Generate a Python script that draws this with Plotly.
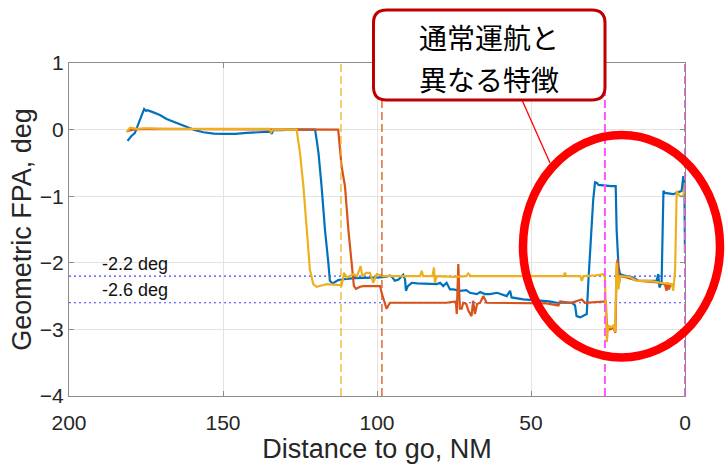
import plotly.graph_objects as go

# Flight-path angle versus distance to go for three approaches
blue_dist = [181.0, 179.8, 178.6, 177.0, 175.6, 175.0, 174.6, 173.2, 170.5, 168.3, 165.0, 161.8,
             159.0, 156.4, 153.0, 149.9, 146.0, 142.3, 138.5, 135.8, 134.6, 134.2, 133.7, 131.0,
             128.2, 124.0, 120.1, 119.6, 119.0, 118.0, 116.9, 115.8, 115.3, 114.4, 113.5, 112.6,
             111.0, 109.8, 107.0, 104.4, 102.0, 99.0, 97.0, 95.8, 95.0, 94.2, 93.0, 91.5, 90.9,
             90.6, 90.0, 88.7, 87.0, 85.0, 83.0, 80.6, 79.5, 78.5, 77.4, 76.3, 75.2, 73.0, 71.0,
             69.8, 67.6, 66.5, 65.0, 63.3, 61.0, 57.9, 56.8, 56.3, 52.5, 49.0, 47.1, 44.0, 41.7,
             39.0, 36.8, 35.7, 35.2, 34.0, 33.0, 31.9, 31.4, 30.8, 30.3, 29.8, 29.2, 28.6, 28.1,
             26.5, 25.4, 24.0, 22.5, 22.2, 21.6, 21.1, 20.0, 18.9, 16.8, 15.2, 12.4, 9.2, 8.7,
             8.3, 7.6, 7.0, 6.5, 5.0, 3.8, 2.7, 1.1, 0.55, 0.2, 0.0]
blue_fpa = [-0.17, -0.10, -0.05, 0.15, 0.31, 0.28, 0.29, 0.27, 0.22, 0.16, 0.10, 0.03,
            -0.01, -0.04, -0.06, -0.065, -0.065, -0.05, -0.04, -0.03, -0.03, -0.065, -0.01, -0.01,
            0.0, 0.0, 0.0, -0.15, -0.35, -0.85, -1.5, -2.0, -2.27, -2.31, -2.29, -2.26,
            -2.25, -2.24, -2.23, -2.23, -2.22, -2.22, -2.21, -2.19, -2.22, -2.27, -2.25, -2.18, -2.25,
            -2.42, -2.35, -2.30, -2.31, -2.31, -2.32, -2.32, -2.30, -2.35, -2.30, -2.40, -2.40, -2.42, -2.41,
            -2.45, -2.47, -2.44, -2.47, -2.47, -2.45, -2.50, -2.42, -2.52, -2.55, -2.56, -2.57, -2.58, -2.60,
            -2.60, -2.60, -2.64, -2.80, -2.82, -2.80, -2.77, -2.30, -1.80, -1.40, -1.05, -0.79, -0.80, -0.83,
            -0.84, -0.85, -0.85, -0.85, -1.50, -2.05, -2.17, -2.19, -2.20, -2.22, -2.27, -2.27, -2.27, -2.17,
            -2.37, -2.30, -0.92, -0.95, -0.96, -0.97, -0.95, -0.92, -0.70, -0.75, -1.85]

red_dist = [181.0, 179.0, 176.0, 170.0, 160.0, 150.0, 140.0, 130.0, 120.0, 115.0, 112.6, 111.5,
            110.4, 109.3, 108.2, 107.5, 106.8, 105.5, 104.4, 101.0, 99.0, 98.5, 97.4, 96.9, 95.8,
            93.6, 90.0, 86.0, 82.8, 79.5, 77.4, 74.4, 74.1, 73.6, 73.1, 72.5, 72.0, 71.0, 70.3,
            69.3, 68.8, 68.2, 67.5, 66.5, 65.5, 64.4, 60.0, 57.9, 50.0, 45.0, 41.1, 40.5, 37.0,
            33.5, 32.5, 29.0, 25.7, 25.4, 24.5, 23.2, 22.6, 22.2, 21.9, 21.4, 21.0, 19.0, 15.5,
            10.0, 8.0, 6.5, 6.0, 5.6, 5.2, 4.8, 4.3]
red_fpa = [-0.02, 0.0, 0.01, 0.01, 0.0, 0.0, 0.0, 0.0, 0.0, 0.0, 0.0, -0.55,
           -0.85, -1.5, -2.05, -2.35, -2.39, -2.36, -2.35, -2.35, -2.35, -2.45, -2.60, -2.69, -2.60,
           -2.60, -2.60, -2.59, -2.60, -2.60, -2.60, -2.58, -2.77, -2.02, -2.69, -2.69, -2.60, -2.62, -2.72,
           -2.80, -2.57, -2.77, -2.62, -2.60, -2.50, -2.60, -2.60, -2.60, -2.60, -2.61, -2.64, -2.58, -2.60,
           -2.55, -2.60, -2.59, -2.58, -2.95, -3.00, -2.98, -3.05, -2.10, -1.95, -2.30, -2.20, -2.22, -2.27,
           -2.29, -2.30, -2.33, -2.42, -2.30, -2.40, -2.32, -2.35]

yellow_dist = [181.3, 180.2, 178.0, 175.0, 170.0, 160.0, 150.0, 140.0, 135.0, 134.4, 133.8, 130.0,
               126.1, 125.0, 123.9, 122.8, 121.8, 120.7, 119.6, 118.0, 116.3, 113.1, 111.5, 110.7,
               109.8, 108.5, 107.7, 106.5, 105.3, 104.8, 103.5, 102.3, 101.2, 100.1, 98.0, 95.0,
               90.0, 86.0, 85.5, 85.0, 82.0, 81.5, 81.2, 80.6, 75.0, 71.0, 70.4, 69.5, 65.0, 60.0,
               55.0, 50.0, 45.0, 39.5, 39.0, 38.5, 34.0, 33.5, 33.0, 29.0, 26.5, 26.0, 25.4, 24.9,
               24.0, 23.2, 22.7, 22.2, 21.6, 21.1, 18.0, 15.7, 13.0, 10.3, 8.1, 6.0, 4.3, 3.8, 3.2,
               2.7, 2.2, 1.6, 0.55, 0.0]
yellow_fpa = [-0.04, 0.03, 0.01, 0.02, 0.01, 0.01, 0.01, 0.01, 0.01, -0.04, 0.0, 0.0,
              0.0, -0.35, -0.85, -1.50, -2.10, -2.32, -2.36, -2.34, -2.32, -2.33, -2.34, -2.15,
              -2.22, -2.19, -2.17, -2.20, -2.05, -2.20, -2.15, -2.15, -2.30, -2.17, -2.20, -2.20,
              -2.20, -2.20, -2.12, -2.20, -2.20, -2.07, -2.30, -2.20, -2.21, -2.20, -2.16, -2.20, -2.20, -2.20,
              -2.21, -2.20, -2.20, -2.20, -2.15, -2.20, -2.20, -2.27, -2.20, -2.19, -2.17, -2.22, -3.19, -2.94,
              -2.97, -2.94, -3.04, -2.00, -2.40, -2.20, -2.21, -2.27, -2.27, -2.28, -2.30, -2.31, -2.32, -2.42, -2.10,
              -0.92, -0.97, -1.00, -1.00, -0.80]

# Reference glide angles (dotted) and event markers (dashed)
ref_fpa = [-2.2, -2.6]
ref_labels = ["-2.2 deg", "-2.6 deg"]
ref_label_fpa = [-2.02, -2.41]
event_dist = [111.7, 98.4, 26.0, 0.0]
event_colors = ["#EDB120", "#D95319", "#FF55FF", "#FF55FF"]
event_widths = [1.3, 1.3, 2, 2]

x_ticks = [200, 150, 100, 50, 0]
y_ticks = [1, 0, -1, -2, -3, -4]

callout_lines = ["通常運航と", "異なる特徴"]

W, H = 726, 464
ML, MR, MT, MB = 69, 41, 63, 68
PW, PH = W - ML - MR, H - MT - MB


def px(x):
    return (x - ML) / PW


def py(y):
    return (H - MB - y) / PH


fig = go.Figure()

for fpa in ref_fpa:
    fig.add_trace(go.Scatter(x=[200, 0], y=[fpa, fpa], mode="lines",
                             line=dict(color="#4444ff", width=1.2, dash="2px,3px"),
                             hoverinfo="skip"))

for dist, fpa, color in [(blue_dist, blue_fpa, "#0072BD"),
                         (red_dist, red_fpa, "#D95319"),
                         (yellow_dist, yellow_fpa, "#EDB120")]:
    fig.add_trace(go.Scatter(x=dist, y=fpa, mode="lines",
                             line=dict(color=color, width=2.2)))

for d, c, w in zip(event_dist, event_colors, event_widths):
    fig.add_trace(go.Scatter(x=[d, d], y=[-4, 1], mode="lines",
                             line=dict(color=c, width=w, dash="8px,4px"),
                             hoverinfo="skip"))

latin = "Liberation Sans, Arial, Helvetica, sans-serif"
axis_common = dict(showgrid=True, gridcolor="#e3e3e3", gridwidth=1, zeroline=False,
                   showline=True, linecolor="#8c8c8c", linewidth=1, mirror="ticks",
                   ticks="inside", ticklen=5, tickcolor="#8c8c8c",
                   tickfont=dict(family=latin, size=21, color="#262626"),
                   automargin=False)

fig.update_layout(
    width=W, height=H,
    margin=dict(l=ML, r=MR, t=MT, b=MB),
    paper_bgcolor="white", plot_bgcolor="white",
    showlegend=False,
    xaxis=dict(range=[200, 0], tickvals=x_ticks, ticklabelstandoff=8,
               title=dict(text="Distance to go, NM",
                          font=dict(family=latin, size=27, color="#262626"), standoff=6),
               **axis_common),
    yaxis=dict(range=[-4, 1], tickvals=y_ticks,
               title=dict(text="Geometric FPA, deg",
                          font=dict(family=latin, size=27, color="#262626"), standoff=0),
               **axis_common),
)

for text, fpa in zip(ref_labels, ref_label_fpa):
    fig.add_annotation(x=190, y=fpa, text=text, showarrow=False, xanchor="left",
                       yanchor="middle", font=dict(family=latin, size=18, color="#111111"))

# Highlight ellipse around the final approach segment
fig.add_shape(type="circle", xref="paper", yref="paper",
              x0=px(523), x1=px(720), y0=py(357.5), y1=py(135),
              line=dict(color="#ff0000", width=8.5), fillcolor="rgba(0,0,0,0)")

# Pointer from the callout to the ellipse
fig.add_shape(type="line", xref="paper", yref="paper",
              x0=px(522), y0=py(100), x1=px(550), y1=py(163),
              line=dict(color="#ff0000", width=1.3))

# Rounded callout box
bx0, bx1, by0, by1 = px(373.5), px(605), py(100), py(10)
rx, ry = 13 / PW, 13 / PH
path = (f"M {bx0 + rx},{by0} L {bx1 - rx},{by0} Q {bx1},{by0} {bx1},{by0 + ry} "
        f"L {bx1},{by1 - ry} Q {bx1},{by1} {bx1 - rx},{by1} "
        f"L {bx0 + rx},{by1} Q {bx0},{by1} {bx0},{by1 - ry} "
        f"L {bx0},{by0 + ry} Q {bx0},{by0} {bx0 + rx},{by0} Z")
fig.add_shape(type="path", xref="paper", yref="paper", path=path,
              line=dict(color="#C00000", width=3), fillcolor="white")

for text, yc in zip(callout_lines, [37, 79]):
    fig.add_annotation(xref="paper", yref="paper", x=px(489), y=py(yc), text=text,
                       showarrow=False, xanchor="center", yanchor="middle",
                       font=dict(family="Noto Sans CJK JP", size=28, color="#000000"))

fig.write_html("out.html")
